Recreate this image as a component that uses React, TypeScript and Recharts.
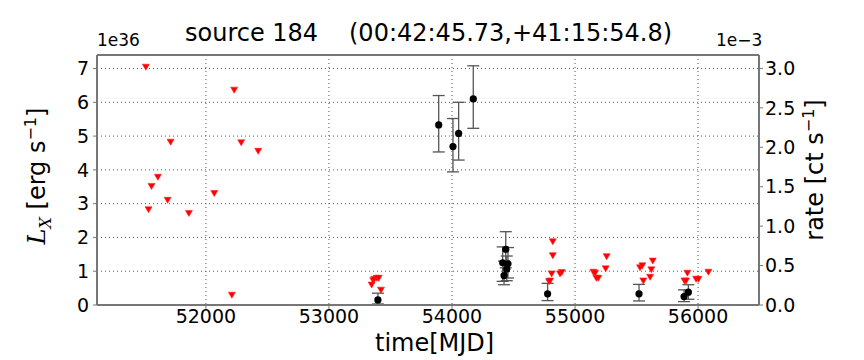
import React from 'react';
import { ScatterChart, Scatter, XAxis, YAxis, CartesianGrid, ErrorBar, ReferenceLine } from 'recharts';

// upper limits (red triangles), MJD and L_X in 1e36 erg/s
const limitTimes = [
  51512, 51534, 51558, 51610, 51689, 51713, 51862, 52068, 52211, 52230, 52287, 52425,
  53347, 53360, 53368, 53388, 53404, 53423,
  54789, 54797, 54810, 54819, 54819, 54878, 54892,
  55149, 55163, 55173, 55189, 55249, 55257,
  55528, 55547, 55555, 55610, 55620, 55632,
  55889, 55902, 55913, 55984, 56003, 56084,
];
const limitLum = [
  7.04, 2.82, 3.51, 3.78, 3.1, 4.82, 2.71, 3.3, 0.29, 6.36, 4.8, 4.55,
  0.59, 0.72, 0.76, 0.79, 0.79, 0.44,
  0.69, 0.71, 0.92, 1.46, 1.87, 0.92, 0.96,
  0.97, 0.94, 0.79, 0.79, 1.07, 1.43,
  1.1, 1.16, 0.71, 0.82, 1.04, 1.3,
  0.71, 0.71, 0.94, 0.76, 0.76, 0.97,
];

// detections (black points with error bars)
const detTimes = [53398, 53892, 54008, 54054, 54173, 54412, 54423, 54437, 54445, 54455, 54777, 55520, 55886, 55921];
const detLum = [0.15, 5.33, 4.69, 5.08, 6.1, 1.25, 0.87, 1.65, 1.06, 1.22, 0.33, 0.33, 0.25, 0.38];
const detLow = [0.03, 4.53, 3.94, 4.29, 5.23, 0.7, 0.6, 1.1, 0.72, 0.8, 0.13, 0.12, 0.1, 0.17];
const detHigh = [0.35, 6.2, 5.52, 6.0, 7.08, 1.72, 1.3, 2.17, 1.45, 1.7, 0.64, 0.61, 0.45, 0.6];

const timeTicks = [52000, 53000, 54000, 55000, 56000];
const lumTicks = [0, 1, 2, 3, 4, 5, 6, 7];
const rateTicks = [0, 0.5, 1, 1.5, 2, 2.5, 3];

const limits = limitTimes.map((t, i) => ({ t, L: limitLum[i] }));
const detections = detTimes.map((t, i) => ({
  t,
  L: detLum[i],
  err: [detLum[i] - detLow[i], detHigh[i] - detLum[i]],
}));

const FONT = '"DejaVu Sans", sans-serif';
const LUM_MAX = 7.4;

const DownTriangle = (props: any) => {
  const { cx, cy } = props;
  if (cx == null || cy == null) return null;
  return (
    <path
      d={`M${cx - 3.5},${cy - 3}L${cx + 3.5},${cy - 3}L${cx},${cy + 3}Z`}
      fill="#ff0000"
      stroke="#ff2020"
      strokeWidth={0.6}
    />
  );
};

const Dot = (props: any) => {
  const { cx, cy } = props;
  if (cx == null || cy == null) return null;
  return <circle cx={cx} cy={cy} r={3.6} fill="#000" />;
};

const tickStyle = { fontSize: 19, fill: '#000', fontFamily: FONT };

export default function App() {
  return (
    <div style={{ position: 'absolute', left: 0, top: 0, width: 864, height: 360, background: '#fff', fontFamily: FONT }}>
      <ScatterChart width={864} height={360} margin={{ top: 55, right: 45, bottom: 25, left: 37 }}>
        <CartesianGrid yAxisId="L" strokeDasharray="1 3" stroke="#555" />
        <XAxis
          type="number"
          dataKey="t"
          domain={[51115, 56495]}
          ticks={timeTicks}
          allowDataOverflow
          height={30}
          tick={tickStyle}
          tickSize={4}
          tickMargin={1}
          stroke="#777"
          axisLine={{ stroke: '#777', strokeWidth: 2 }}
          tickLine={{ stroke: '#777' }}
        />
        <YAxis
          yAxisId="L"
          type="number"
          dataKey="L"
          domain={[0, LUM_MAX]}
          ticks={lumTicks}
          allowDataOverflow
          width={60}
          tick={tickStyle}
          tickSize={4}
          tickMargin={4}
          axisLine={{ stroke: '#777', strokeWidth: 2 }}
          tickLine={{ stroke: '#777' }}
        />
        <YAxis
          yAxisId="R"
          orientation="right"
          type="number"
          dataKey="L"
          domain={[0, 3.17]}
          ticks={rateTicks}
          allowDataOverflow
          width={60}
          tick={tickStyle}
          tickFormatter={(v: number) => v.toFixed(1)}
          tickSize={4}
          tickMargin={2}
          axisLine={{ stroke: '#777', strokeWidth: 2 }}
          tickLine={{ stroke: '#777' }}
        />
        <ReferenceLine yAxisId="L" y={LUM_MAX} stroke="#777" strokeWidth={2} ifOverflow="extendDomain" />
        <Scatter yAxisId="L" data={limits} shape={<DownTriangle />} isAnimationActive={false} />
        <Scatter yAxisId="L" data={detections} shape={<Dot />} isAnimationActive={false}>
          <ErrorBar dataKey="err" direction="y" width={6} stroke="#555" strokeWidth={1.3} />
        </Scatter>
      </ScatterChart>

      <div style={{ position: 'absolute', left: 0, top: 19, fontSize: 24, whiteSpace: 'pre' }}>
        <span style={{ position: 'absolute', left: 185 }}>source 184</span>
        <span style={{ position: 'absolute', left: 349 }}>(00:42:45.73,+41:15:54.8)</span>
      </div>
      <div style={{ position: 'absolute', left: 97, top: 30, fontSize: 17 }}>1e36</div>
      <div style={{ position: 'absolute', left: 716, top: 30, fontSize: 17 }}>1e−3</div>
      <div style={{ position: 'absolute', left: 375, top: 331, fontSize: 24, lineHeight: '24px', whiteSpace: 'nowrap' }}>time[MJD]</div>
      <div
        style={{
          position: 'absolute', left: 38, top: 176, fontSize: 24, whiteSpace: 'nowrap',
          transform: 'translate(-50%, -50%) rotate(-90deg)',
        }}
      >
        <i style={{ fontFamily: '"DejaVu Serif", serif' }}>L</i><sub style={{ fontSize: 16 }}><i style={{ fontFamily: '"DejaVu Serif", serif' }}>X</i></sub> [erg s<sup style={{ fontSize: 16 }}>−1</sup>]
      </div>
      <div
        style={{
          position: 'absolute', left: 814, top: 170, fontSize: 24, whiteSpace: 'nowrap',
          transform: 'translate(-50%, -50%) rotate(-90deg)',
        }}
      >
        rate [ct s<sup style={{ fontSize: 16 }}>−1</sup>]
      </div>
    </div>
  );
}
